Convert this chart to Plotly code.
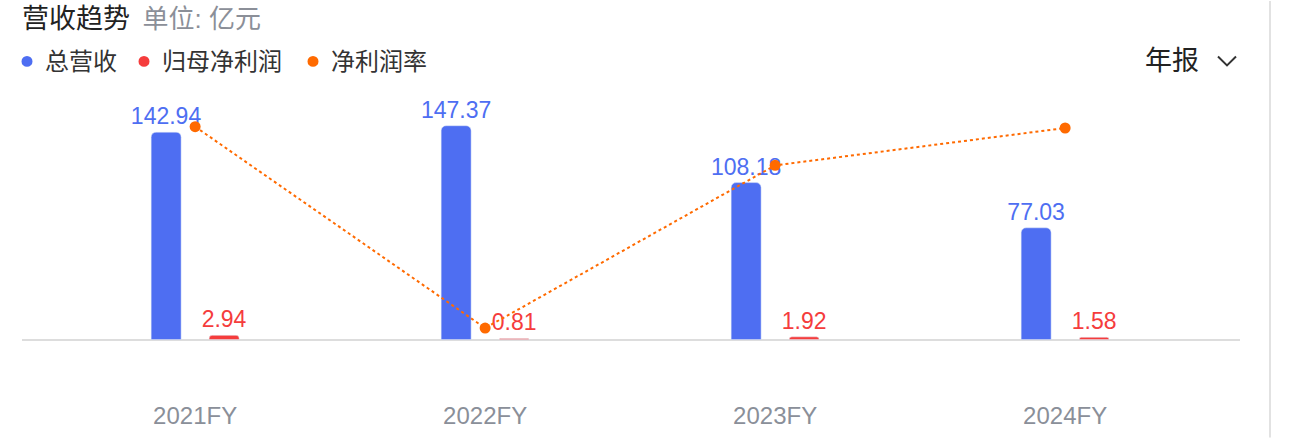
import plotly.graph_objects as go

# ---- data ----
years = ["2021FY", "2022FY", "2023FY", "2024FY"]
revenue = [142.94, 147.37, 108.18, 77.03]          # 总营收 (亿元)
net_profit = [2.94, 0.81, 1.92, 1.58]             # 归母净利润 (亿元)
net_margin = [2.06, 0.55, 1.77, 2.05]             # 净利润率 (%)

BLUE = "#4e6ef2"
RED = "#f53c3c"
ORANGE = "#ff6a00"
FONT = "Liberation Sans, Arial, Noto Sans CJK SC, sans-serif"

W, H = 1304, 441
L, R, T, B = 22, 64, 100, 39
PW = W - L - R
PH = H - T - B


def px(x):  # page pixel x -> paper
    return (x - L) / PW


def py(y):  # page pixel y -> paper
    return (H - B - y) / PH


fig = go.Figure()

fig.add_trace(go.Bar(
    x=years, y=revenue, name="总营收",
    marker=dict(color=BLUE, cornerradius=5),
    width=0.1034, offset=-0.1517,
    text=[f"{v:.2f}" for v in revenue], textposition="outside",
    textfont=dict(color=BLUE, size=23, family=FONT),
    constraintext="none", cliponaxis=False,
    hoverinfo="skip", showlegend=False,
))
fig.add_trace(go.Bar(
    x=years, y=net_profit, name="归母净利润",
    marker=dict(color=RED, cornerradius=3),
    width=0.1034, offset=0.0483,
    text=[f"{v:.2f}" for v in net_profit], textposition="outside",
    textfont=dict(color=RED, size=23, family=FONT),
    constraintext="none", cliponaxis=False,
    hoverinfo="skip", showlegend=False,
))
fig.add_trace(go.Scatter(
    x=years, y=net_margin, name="净利润率", yaxis="y2",
    mode="lines+markers",
    line=dict(color=ORANGE, width=2, dash="dot"),
    marker=dict(color=ORANGE, size=11),
    cliponaxis=False, hoverinfo="skip", showlegend=False,
))

shapes = []
annotations = []

# legend
legend_items = [("总营收", BLUE, 27), ("归母净利润", RED, 144), ("净利润率", ORANGE, 313)]
for name, col, cx in legend_items:
    r = 5.5
    shapes.append(dict(type="circle", xref="paper", yref="paper",
                       x0=px(cx - r), x1=px(cx + r), y0=py(61 + r), y1=py(61 - r),
                       fillcolor=col, line=dict(width=0)))
    annotations.append(dict(text=name, xref="paper", yref="paper",
                            x=px(cx + 16), y=py(61), xanchor="left", yanchor="middle",
                            showarrow=False, font=dict(size=24, color="#333333", family=FONT)))

# 年报 dropdown
annotations.append(dict(text="年报", xref="paper", yref="paper",
                        x=px(1143), y=py(61), xanchor="left", yanchor="middle",
                        showarrow=False, font=dict(size=27, color="#222222", family=FONT)))
shapes.append(dict(type="path", xref="paper", yref="paper",
                   path=f"M {px(1218)} {py(56)} L {px(1227)} {py(65)} L {px(1236)} {py(56)}",
                   line=dict(color="#333333", width=2)))

# right border line
shapes.append(dict(type="line", xref="paper", yref="paper",
                   x0=px(1270), x1=px(1270), y0=py(0), y1=py(H),
                   line=dict(color="#e2e2e2", width=2)))

fig.update_layout(
    width=W, height=H,
    margin=dict(l=L, r=R, t=T, b=B),
    paper_bgcolor="white", plot_bgcolor="white",
    font=dict(family=FONT),
    title=dict(
        text=("营收趋势 <span style='font-size:18px'>&nbsp;</span>"
              "<span style='color:#8b8f98;font-size:26px'>单位: 亿元</span>"),
        x=L / W, xanchor="left", y=1 - 19 / H, yanchor="middle",
        font=dict(size=27, color="#222222", family=FONT),
    ),
    barmode="overlay",
    showlegend=False,
    xaxis=dict(range=[-0.597, 3.603], showgrid=False, showline=False, zeroline=False,
               ticks="", tickfont=dict(size=24, color="#8a8f99", family=FONT)),
    yaxis=dict(range=[-40.93, 165.1], showgrid=False, showticklabels=False,
               zeroline=True, zerolinecolor="#dddddd", zerolinewidth=2, showline=False),
    yaxis2=dict(range=[0.018, 2.26], overlaying="y", showgrid=False, showticklabels=False,
                zeroline=False, showline=False),
    shapes=shapes,
    annotations=annotations,
    hovermode=False,
)

fig.write_html("out.html", config={"displayModeBar": False},
               post_script="document.body.style.margin='0';")
